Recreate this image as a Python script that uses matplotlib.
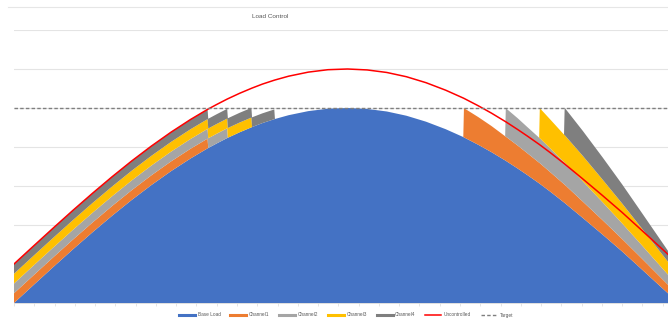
import matplotlib
matplotlib.use("Agg")
import matplotlib.pyplot as plt
from matplotlib.lines import Line2D

# ---- data ----
t = [0, 3, 6, 9, 12, 15, 18, 21, 24, 27,
     29.6, 29.7, 31, 32.6, 32.7, 34.5, 36.3, 36.4, 38, 39.8,
     39.9, 42, 45, 48, 51, 54, 57, 60, 63, 66,
     68.7, 68.8, 71, 73, 75.1, 75.2, 77, 78.5, 80.3, 80.4,
     82, 84.1, 84.2, 87, 90, 93, 96, 100]

base_load = [0, 0.463, 0.922, 1.374, 1.813, 2.237, 2.642, 3.023, 3.379, 3.706,
             3.965, 3.974, 4.091, 4.229, 4.237, 4.377, 4.504, 4.511, 4.614, 4.713,
             4.718, 4.816, 4.920, 4.982, 5.000, 4.976, 4.911, 4.802, 4.649, 4.457,
             4.255, 4.247, 4.056, 3.869, 3.656, 3.646, 3.450, 3.280, 3.068, 3.056,
             2.855, 2.578, 2.565, 2.177, 1.754, 1.320, 0.862, 0.247]

channel1 = [0.25, 0.25, 0.25, 0.25, 0.25, 0.25, 0.25, 0.25, 0.25, 0.25,
            0.25, 0, 0, 0, 0, 0, 0, 0, 0, 0,
            0, 0, 0, 0, 0, 0, 0, 0, 0, 0,
            0, 0.75, 0.71, 0.67, 0.62, 0.62, 0.59, 0.56, 0.53, 0.53,
            0.50, 0.47, 0.47, 0.42, 0.37, 0.32, 0.28, 0.22]

channel2 = [0.25, 0.25, 0.25, 0.25, 0.25, 0.25, 0.25, 0.25, 0.25, 0.25,
            0.25, 0.25, 0.25, 0.25, 0, 0, 0, 0, 0, 0,
            0, 0, 0, 0, 0, 0, 0, 0, 0, 0,
            0, 0, 0, 0, 0, 0.73, 0.70, 0.67, 0.64, 0.64,
            0.61, 0.57, 0.57, 0.52, 0.46, 0.40, 0.34, 0.26]

channel3 = [0.25, 0.25, 0.25, 0.25, 0.25, 0.25, 0.25, 0.25, 0.25, 0.25,
            0.25, 0.25, 0.25, 0.25, 0.25, 0.25, 0.25, 0, 0, 0,
            0, 0, 0, 0, 0, 0, 0, 0, 0, 0,
            0, 0, 0, 0, 0, 0, 0, 0, 0, 0.77,
            0.74, 0.70, 0.70, 0.65, 0.58, 0.51, 0.43, 0.33]

channel4 = [0.25, 0.25, 0.25, 0.25, 0.25, 0.25, 0.25, 0.25, 0.25, 0.25,
            0.25, 0.25, 0.25, 0.25, 0.25, 0.25, 0.25, 0.25, 0.25, 0.25,
            0, 0, 0, 0, 0, 0, 0, 0, 0, 0,
            0, 0, 0, 0, 0, 0, 0, 0, 0, 0,
            0, 0, 0.70, 0.64, 0.57, 0.49, 0.40, 0.28]

uncontrolled = [1.0, 1.463, 1.922, 2.374, 2.813, 3.237, 3.642, 4.023, 4.379, 4.706,
                4.965, 4.974, 5.091, 5.229, 5.237, 5.377, 5.504, 5.511, 5.614, 5.713,
                5.718, 5.816, 5.920, 5.982, 6.000, 5.976, 5.911, 5.802, 5.649, 5.457,
                5.255, 5.247, 5.056, 4.869, 4.656, 4.646, 4.450, 4.280, 4.068, 4.056,
                3.855, 3.578, 3.565, 3.177, 2.754, 2.320, 1.862, 1.247]

target = 5
y_max = 7
series_names = ["Base Load", "Channel1", "Channel2", "Channel3", "Channel4",
                "Uncontrolled", "Target"]
colors = ["#4472C4", "#ED7D31", "#A5A5A5", "#FFC000", "#7F7F7F"]

# ---- figure ----
fig = plt.figure(figsize=(6.68, 3.22), dpi=100)
fig.patch.set_facecolor("white")
ax = fig.add_axes([14 / 668, 1 - 303 / 322, 654 / 668, (303 - 30) / 322])

for yv in range(1, y_max + 1):
    ax.axhline(yv, color="#E4E4E4", lw=0.8, zorder=0)

ax.stackplot(t, base_load, channel1, channel2, channel3, channel4,
             colors=colors, linewidth=0, zorder=2)
ax.plot(t, uncontrolled, color="#FF0000", lw=1.1, zorder=4)
ax.axhline(target, color="#7F7F7F", lw=1.0, ls=(0, (2.5, 1.6)), zorder=5)

ax.set_xlim(t[0], t[-1])
ax.set_ylim(0, y_max)
ax.set_yticks([])
ax.set_xticks([i * 3.1 for i in range(0, 33)])
ax.tick_params(axis="x", length=2.5, width=0.6, color="#E0E0E0", labelbottom=False)
for s in ["top", "right", "left"]:
    ax.spines[s].set_visible(False)
ax.spines["bottom"].set_color("#D9D9D9")
ax.spines["bottom"].set_linewidth(0.6)
ax.set_facecolor("none")

# top border line of chart
fig.add_artist(Line2D([8 / 668, 1], [1 - 7 / 322, 1 - 7 / 322],
                      color="#E6E6E6", lw=0.8))

fig.text(270 / 668, 1 - 17 / 322, "Load Control", ha="center", va="center",
         fontsize=4.6, color="#595959", family="Liberation Sans")

handles = [Line2D([0], [0], color=c, lw=2.2) for c in colors]
handles.append(Line2D([0], [0], color="#FF0000", lw=1.1))
handles.append(Line2D([0], [0], color="#7F7F7F", lw=1.0, ls=(0, (2.5, 1.6))))
leg = fig.legend(handles, series_names, loc="center", ncol=7,
                 bbox_to_anchor=(346 / 668, 1 - 315 / 322), frameon=False,
                 prop={"family": "Liberation Sans", "size": 3.4},
                 handlelength=3.4, handletextpad=0.5, columnspacing=2.1,
                 borderaxespad=0, borderpad=0)
for txt in leg.get_texts():
    txt.set_color("#595959")

fig.savefig("out.png", dpi=100, facecolor="white")
